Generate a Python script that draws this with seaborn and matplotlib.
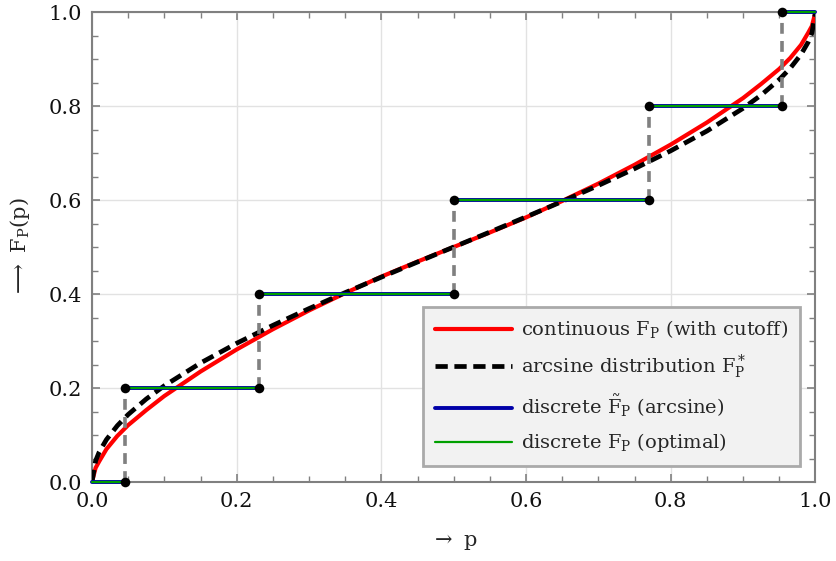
import numpy as np
import pandas as pd
import matplotlib
matplotlib.use("Agg")
import matplotlib.pyplot as plt
import seaborn as sns
from matplotlib.ticker import MultipleLocator

# ---- data ----
p_grid = [0.0, 0.005, 0.01, 0.02, 0.035, 0.05, 0.075, 0.1, 0.15, 0.2, 0.25, 0.3,
          0.35, 0.4, 0.45, 0.5, 0.55, 0.6, 0.65, 0.7, 0.75, 0.8, 0.85, 0.9,
          0.925, 0.95, 0.965, 0.98, 0.99, 0.995, 1.0]
red_cdf = [0.0, 0.030, 0.044, 0.070, 0.098, 0.121, 0.153, 0.183, 0.235, 0.282, 0.325, 0.365,
           0.402, 0.437, 0.469, 0.5, 0.531, 0.563, 0.598, 0.635, 0.675, 0.718, 0.765, 0.817,
           0.847, 0.879, 0.902, 0.930, 0.956, 0.970, 1.0]
arcsine_cdf = [0.0, 0.0451, 0.0638, 0.0903, 0.1198, 0.1436, 0.1766, 0.2048, 0.2532, 0.2952, 0.3333, 0.3690,
               0.4030, 0.4359, 0.4681, 0.5, 0.5319, 0.5641, 0.5970, 0.6310, 0.6667, 0.7048, 0.7468, 0.7952,
               0.8234, 0.8564, 0.8802, 0.9097, 0.9362, 0.9549, 1.0]

jump_arcsine = [0.0456, 0.2306, 0.5, 0.7694, 0.9544]
levels_arcsine = [0.0, 0.2, 0.4, 0.6, 0.8, 1.0]
jump_optimal = [0.0456, 0.2306, 0.5, 0.7694, 0.9544]
levels_optimal = [0.0, 0.2, 0.4, 0.6, 0.8, 1.0]

ticks = [0.0, 0.2, 0.4, 0.6, 0.8, 1.0]
tick_labels = ["0.0", "0.2", "0.4", "0.6", "0.8", "1.0"]

# ---- style ----
sns.set_theme(style="ticks")
plt.rcParams["font.family"] = ["DejaVu Serif"]
plt.rcParams["mathtext.fontset"] = "dejavuserif"

fig = plt.figure(figsize=(8.37, 5.61), dpi=100)
ax = fig.add_axes([0.1099, 0.1408, 0.8644, 0.8378])

df_curves = pd.DataFrame({"p": p_grid, "red": red_cdf, "arc": arcsine_cdf})

sns.lineplot(data=df_curves, x="p", y="red", ax=ax, color="#ff0000", lw=3.0,
             sort=False, estimator=None, label="continuous $\\mathrm{F_P}$ (with cutoff)", zorder=3)
sns.lineplot(data=df_curves, x="p", y="arc", ax=ax, color="black", lw=3.4,
             sort=False, estimator=None, label="arcsine distribution $\\mathrm{F^*_P}$", zorder=4)
ax.lines[-1].set_dashes((2.6, 1.4))

# horizontal steps
seg_a_x, seg_a_y, seg_o_x, seg_o_y = [], [], [], []
xa = [0.0] + jump_arcsine + [1.0]
xo = [0.0] + jump_optimal + [1.0]
for i, lv in enumerate(levels_arcsine):
    seg_a_x += [xa[i], xa[i + 1], np.nan]
    seg_a_y += [lv, lv, np.nan]
for i, lv in enumerate(levels_optimal):
    seg_o_x += [xo[i], xo[i + 1], np.nan]
    seg_o_y += [lv, lv, np.nan]

ax.plot(seg_a_x, seg_a_y, color="#0000a8", lw=2.8, zorder=5, clip_on=False,
        label="discrete $\\tilde{\\mathrm{F}}_\\mathrm{P}$ (arcsine)")
ax.plot(seg_o_x, seg_o_y, color="#00a000", lw=1.6, zorder=6, clip_on=False,
        label="discrete $\\mathrm{F_P}$ (optimal)")

# vertical dashed jumps
for j, lo, hi in zip(jump_optimal, levels_optimal[:-1], levels_optimal[1:]):
    ax.plot([j, j], [lo, hi], color="#808080", lw=2.6, dashes=(3.0, 2.0), zorder=7, clip_on=False)

# dots
dot_x = [j for j in jump_optimal for _ in range(2)]
dot_y = [v for lo, hi in zip(levels_optimal[:-1], levels_optimal[1:]) for v in (lo, hi)]
ax.scatter(dot_x, dot_y, s=48, color="black", zorder=8, clip_on=False, linewidths=0)

ax.set_xlim(0, 1)
ax.set_ylim(0, 1)
ax.set_xticks(ticks)
ax.set_xticklabels(tick_labels)
ax.set_yticks(ticks)
ax.set_yticklabels(tick_labels)
ax.xaxis.set_minor_locator(MultipleLocator(0.05))
ax.yaxis.set_minor_locator(MultipleLocator(0.05))
ax.tick_params(which="both", direction="in", top=True, right=True, color="#808080",
               labelsize=15, labelcolor="#111111", pad=7)
ax.tick_params(which="major", length=6, width=1.2)
ax.tick_params(which="minor", length=4, width=1.0)
for s in ax.spines.values():
    s.set_color("#808080")
    s.set_linewidth(1.5)
ax.grid(True, which="major", color="#e2e2e2", lw=1.0)
ax.set_axisbelow(True)

ax.set_xlabel(r"$\rightarrow$ p", fontsize=15, labelpad=15)
ax.set_ylabel(r"$\longrightarrow$ $\mathrm{F_P(p)}$", fontsize=15, labelpad=12)

handles, labels = ax.get_legend_handles_labels()
leg = ax.legend(handles, labels, loc="lower right", bbox_to_anchor=(0.9786, 0.034),
                borderaxespad=0, fontsize=14, handlelength=4.0, labelspacing=0.62,
                frameon=True, fancybox=False, facecolor="#f2f2f2", edgecolor="#aaaaaa",
                framealpha=1.0, borderpad=0.6, handletextpad=0.45)
leg.get_frame().set_linewidth(2.0)
leg.set_zorder(10)

fig.savefig("out.png", dpi=100)
